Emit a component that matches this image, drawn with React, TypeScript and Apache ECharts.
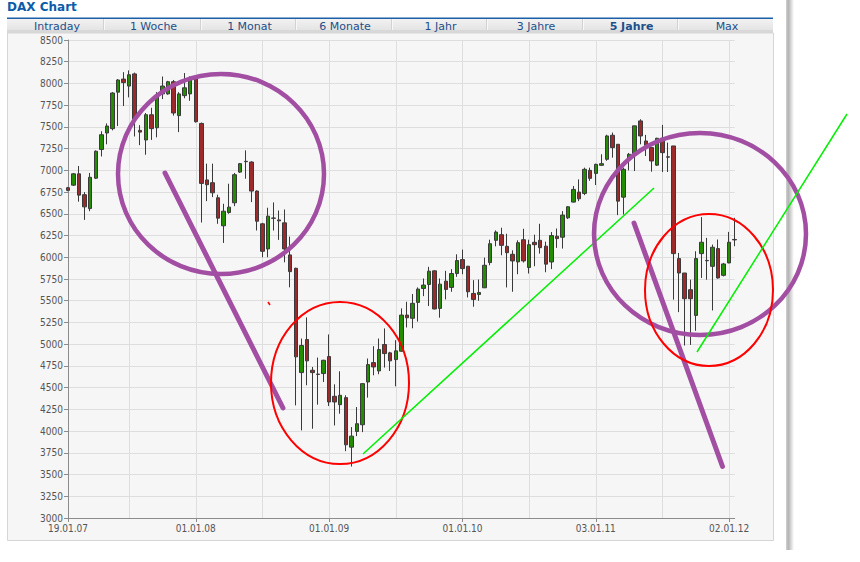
import { useEffect, useRef } from "react";
import * as echarts from "echarts";

// ---- data ----
const tabLabels = ["Intraday", "1 Woche", "1 Monat", "6 Monate", "1 Jahr", "3 Jahre", "5 Jahre", "Max"];
const activeTab = "5 Jahre";

const xTickLabels = ["19.01.07", "01.01.08", "01.01.09", "01.01.10", "03.01.11", "02.01.12"];
const xTickIndex = [0, 23, 47, 71, 95, 119];

const opens = [
  6800, 6830, 6960, 6720, 6560, 6910, 7240, 7430, 7480, 7900,
  8050, 7970, 8110, 7460, 7350, 7640, 7490, 7880, 7880, 8020,
  7630, 7860, 7880, 8080, 7540, 6890, 6858, 6685, 6362, 6515,
  6627, 6980, 7100, 7096, 6762, 6385, 6096, 6452, 6430, 6396,
  6027, 5873, 4673, 5054, 4700, 4656, 4662, 4858, 4400, 4304,
  4385, 3815, 3996, 4073, 4565, 4788, 4692, 4996, 4900, 4823,
  4919, 5335, 5298, 5481, 5641, 5687, 5844, 5412, 5725, 5653,
  5813, 5973, 5897, 5584, 5572, 5649, 5939, 6195, 6260, 6126,
  6034, 5947, 6202, 5882, 6172, 6195, 6128, 5946, 6242, 6231,
  6454, 6635, 6750, 6735, 7000, 6965, 7058, 7127, 7404, 7300,
  6692, 7127, 7192, 7569, 7338, 7262, 7060, 7369, 7156, 7281,
  5985, 5819, 5627, 5331, 6042, 5964, 5896, 6100, 5792, 5935,
  6200,
];
const closes = [
  6770, 6960, 6715, 6580, 6920, 7220, 7410, 7510, 7890, 8040,
  8010, 8100, 7590, 7440, 7640, 7480, 7870, 7970, 8020, 7660,
  7880, 7950, 8070, 7560, 6850, 6835, 6742, 6450, 6530, 6577,
  6950, 7077, 7104, 6762, 6415, 6069, 6473, 6448, 6419, 6096,
  5835, 4854, 4985, 4808, 4673, 4652, 4815, 4335, 4335, 4412,
  3842, 3942, 4085, 4546, 4765, 4738, 4938, 4892, 4808, 4923,
  5335, 5304, 5470, 5634, 5680, 5840, 5405, 5691, 5630, 5813,
  5962, 5870, 5603, 5515, 5595, 5908, 6156, 6290, 6137, 6053,
  5958, 6168, 5958, 6145, 6145, 6111, 5921, 6250, 6215, 6485,
  6581, 6781, 6673, 7012, 6908, 7069, 7077, 7396, 7262, 6646,
  7012, 7185, 7512, 7396, 7288, 7108, 7369, 7204, 7152, 6042,
  5819, 5523, 5523, 5985, 6173, 5960, 6115, 5762, 5923, 6173,
  6205,
];
const lows = [
  6760, 6820, 6640, 6430, 6530, 6900, 7160, 7300, 7460, 7510,
  7740, 7840, 7390, 7290, 7180, 7350, 7380, 7820, 7870, 7630,
  7440, 7830, 7800, 7550, 6400, 6646, 6692, 6385, 6165, 6500,
  6588, 6970, 6904, 6635, 6308, 6000, 6000, 6308, 6200, 5942,
  5654, 4296, 4008, 4527, 4027, 4304, 4565, 4288, 4065, 4200,
  3769, 3592, 3942, 3988, 4385, 4642, 4654, 4731, 4692, 4515,
  4912, 5192, 5183, 5260, 5553, 5439, 5400, 5305, 5515, 5603,
  5775, 5805, 5538, 5431, 5500, 5645, 5908, 6126, 6023, 5653,
  5603, 5805, 5939, 5813, 5897, 6042, 5828, 5864, 6108, 6100,
  6440, 6630, 6646, 6715, 6880, 6831, 7050, 7110, 7146, 6485,
  6492, 7000, 6992, 7300, 7165, 6985, 7050, 6981, 6981, 5512,
  5369, 4985, 4992, 5154, 5762, 5742, 5388, 5754, 5780, 5931,
  6127,
];
const highs = [
  6810, 6970, 7050, 6750, 6970, 7230, 7450, 7540, 7900, 8050,
  8130, 8150, 8125, 7520, 7660, 7720, 7900, 8080, 8030, 8040,
  7900, 8120, 8080, 8090, 7550, 7077, 7077, 6720, 6615, 6846,
  6970, 7085, 7230, 7104, 6770, 6396, 6570, 6631, 6538, 6550,
  6238, 5880, 5065, 5308, 4738, 4846, 4820, 5112, 4538, 4688,
  4412, 4046, 4277, 4550, 4835, 4977, 5065, 5181, 4912, 5046,
  5412, 5488, 5577, 5653, 5756, 5890, 5850, 5756, 5844, 5863,
  6034, 6088, 5900, 5737, 5744, 5996, 6202, 6309, 6340, 6271,
  6080, 6195, 6328, 6202, 6260, 6385, 6180, 6290, 6331, 6531,
  6590, 6820, 6896, 7031, 7031, 7077, 7185, 7410, 7435, 7300,
  7031, 7200, 7512, 7588, 7408, 7269, 7375, 7523, 7319, 7281,
  6050, 5819, 5742, 6069, 6462, 6223, 6146, 6204, 5935, 6292,
  6454,
];

const yMin = 3000;
const yMax = 8500;
const yStep = 250;

// ---- layout / style ----
const W = 860;
const H = 562;
const AXIS_FONT = '"Liberation Sans Narrow", "DejaVu Sans Condensed", "Liberation Sans", sans-serif';
const UI_FONT = '"DejaVu Sans", Verdana, sans-serif';
const PURPLE = "#a24fa3";
const RED = "#ff0000";
const GREEN_LINE = "#00f000";

export default function App() {
  const ref = useRef<HTMLDivElement>(null);

  useEffect(() => {
    if (!ref.current) return;
    const chart = echarts.init(ref.current, undefined, { renderer: "svg" });

    const categories = opens.map((_, i) => {
      const k = xTickIndex.indexOf(i);
      return k >= 0 ? xTickLabels[k] : "c" + i;
    });
    const data = opens.map((o, i) => [o, closes[i], lows[i], highs[i]]);
    const isLabel = (i: number) => xTickIndex.indexOf(i) >= 0;
    const isGrid = (i: number) => (i + 1) % 12 === 0;

    const tabEdges = [7, 103, 200, 295, 391, 486, 582, 677, 773];

    const chrome: any[] = [
      { type: "rect", z: -20, silent: true, shape: { x: 0, y: 0, width: W, height: H }, style: { fill: "#ffffff" } },
      {
        type: "rect", z: -19, silent: true,
        shape: { x: 786, y: 0, width: 8, height: 550 },
        style: {
          fill: new echarts.graphic.LinearGradient(0, 0, 1, 0, [
            { offset: 0, color: "#d0d0d0" },
            { offset: 0.3, color: "#b4b4b4" },
            { offset: 1, color: "#ffffff" },
          ]),
        },
      },
      {
        type: "text", z: -5, silent: true, x: 7, y: 1,
        style: { text: "DAX Chart", font: `bold 12px ${UI_FONT}`, fill: "#0d5ca8", textVerticalAlign: "top" },
      },
      { type: "rect", z: -18, silent: true, shape: { x: 7, y: 17.5, width: 766, height: 1.5 }, style: { fill: "#1a5fa8" } },
      {
        type: "rect", z: -18, silent: true,
        shape: { x: 7, y: 19, width: 766, height: 11 },
        style: {
          fill: new echarts.graphic.LinearGradient(0, 0, 0, 1, [
            { offset: 0, color: "#f2f2f2" },
            { offset: 1, color: "#e4e4e4" },
          ]),
        },
      },
      { type: "rect", z: -18, silent: true, shape: { x: 7, y: 30, width: 766, height: 3 }, style: { fill: "#d8d8d8" } },
      {
        type: "rect", z: -18, silent: true,
        shape: { x: 7.5, y: 33, width: 766, height: 507.5 },
        style: { fill: "#f6f6f6", stroke: "#d6d6d6", lineWidth: 1 },
      },
    ];

    for (let t = 1; t < tabEdges.length - 1; t++) {
      chrome.push({
        type: "line", z: -17, silent: true,
        shape: { x1: tabEdges[t] + 0.5, y1: 19, x2: tabEdges[t] + 0.5, y2: 30 },
        style: { stroke: "#d2d2d2", lineWidth: 1 },
      });
      chrome.push({
        type: "line", z: -17, silent: true,
        shape: { x1: tabEdges[t] + 1.5, y1: 19, x2: tabEdges[t] + 1.5, y2: 30 },
        style: { stroke: "#f8f8f8", lineWidth: 1 },
      });
    }
    tabLabels.forEach((label, t) => {
      const cx = (tabEdges[t] + tabEdges[t + 1]) / 2 + 2;
      chrome.push({
        type: "text", z: -5, silent: true, x: cx, y: 26.5,
        style: {
          text: label,
          font: `${label === activeTab ? "bold " : ""}11px ${UI_FONT}`,
          fill: "#1d4f8a",
          textAlign: "center",
          textVerticalAlign: "middle",
        },
      });
    });

    const notes: any[] = [
      { type: "ellipse", shape: { cx: 221, cy: 174, rx: 103, ry: 100 }, style: { fill: "none", stroke: PURPLE, lineWidth: 4.5 } },
      { type: "line", shape: { x1: 165, y1: 173, x2: 283, y2: 408 }, style: { stroke: PURPLE, lineWidth: 5, lineCap: "round" } },
      { type: "ellipse", shape: { cx: 340, cy: 383, rx: 69, ry: 81 }, style: { fill: "none", stroke: RED, lineWidth: 2 } },
      { type: "line", shape: { x1: 268, y1: 302, x2: 270, y2: 305 }, style: { stroke: RED, lineWidth: 1.5 } },
      { type: "line", shape: { x1: 363, y1: 454, x2: 654, y2: 188 }, style: { stroke: GREEN_LINE, lineWidth: 1.5 } },
      { type: "ellipse", shape: { cx: 700, cy: 234, rx: 106, ry: 101 }, style: { fill: "none", stroke: PURPLE, lineWidth: 4.5 } },
      { type: "line", shape: { x1: 634, y1: 223, x2: 722.5, y2: 466.5 }, style: { stroke: PURPLE, lineWidth: 5, lineCap: "round" } },
      { type: "ellipse", shape: { cx: 709, cy: 290, rx: 64, ry: 76 }, style: { fill: "none", stroke: RED, lineWidth: 2 } },
      { type: "line", shape: { x1: 697, y1: 352, x2: 847, y2: 114 }, style: { stroke: GREEN_LINE, lineWidth: 1.5 } },
    ].map((e) => ({ ...e, z: 100, silent: true }));

    chart.setOption({
      animation: false,
      backgroundColor: "transparent",
      grid: { left: 68, top: 40, width: 666.7, height: 478, containLabel: false },
      xAxis: {
        type: "category",
        data: categories,
        boundaryGap: false,
        axisLine: { show: true, lineStyle: { color: "#8c8c8c", width: 1 } },
        axisTick: { show: true, length: 4, interval: (i: number) => isLabel(i), lineStyle: { color: "#8c8c8c" } },
        axisLabel: {
          interval: (i: number) => isLabel(i),
          color: "#555555",
          fontFamily: AXIS_FONT,
          fontSize: 10,
          lineHeight: 10,
          margin: 5,
        },
        splitLine: { show: true, interval: (i: number) => isGrid(i), lineStyle: { color: "#dedede", width: 1 } },
      },
      yAxis: {
        type: "value",
        min: yMin,
        max: yMax,
        interval: yStep,
        axisLine: { show: true, lineStyle: { color: "#8c8c8c", width: 1 } },
        axisTick: { show: true, length: 4, lineStyle: { color: "#8c8c8c" } },
        axisLabel: {
          formatter: (v: number) => String(v),
          color: "#555555",
          fontFamily: AXIS_FONT,
          fontSize: 10,
          lineHeight: 10,
          margin: 5,
        },
        splitLine: { show: true, lineStyle: { color: "#dedede", width: 1 } },
      },
      series: [
        {
          type: "candlestick",
          data,
          barWidth: 4,
          itemStyle: {
            color: "#238c00",
            color0: "#9c2a2a",
            borderColor: "#3a3a3a",
            borderColor0: "#3a3a3a",
            borderWidth: 1,
          },
        },
      ],
      graphic: [...chrome, ...notes],
    });

    return () => chart.dispose();
  }, []);

  return (
    <div
      ref={ref}
      style={{ position: "fixed", left: 0, top: 0, width: W, height: H, background: "#fff" }}
    />
  );
}
